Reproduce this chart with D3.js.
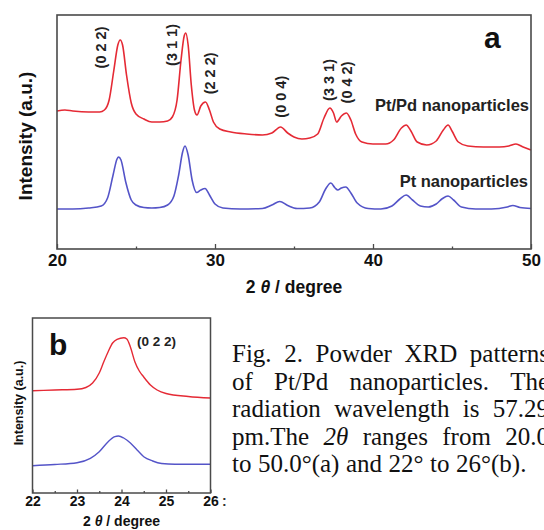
<!DOCTYPE html>
<html><head><meta charset="utf-8">
<script src="https://cdn.jsdelivr.net/npm/d3@7"></script>
<style>body{margin:0;background:#fff}svg{display:block}</style>
</head><body>
<svg id="c" width="544" height="530"></svg>
<script>
// ---------- DATA ----------
// Panel a: Pt/Pd nanoparticles (red)
const twoThetaPtPd = [20.0,20.5,21.0,22.0,22.7,23.0,23.3,23.6,23.85,24.0,24.15,24.4,24.7,25.0,25.5,26.0,26.5,27.0,27.3,27.6,27.85,28.05,28.15,28.3,28.5,28.7,28.86,29.1,29.4,29.65,29.9,30.3,31.0,32.0,33.0,33.6,34.15,34.6,35.0,35.5,36.0,36.5,36.9,37.27,37.5,37.7,38.0,38.32,38.6,38.9,39.3,40.0,40.8,41.3,41.8,42.1,42.4,42.8,43.4,44.0,44.45,44.75,45.0,45.4,46.0,47.0,48.0,48.6,49.05,49.5,50.0];
const intensityPtPd = [138,139,138,137,137,139,149,179,204,209,204,174,146,135,130,127,127,128,132,149,189,213,216,204,164,139,134,143,147,139,127,120,117,115,114,116,122,116,112,110,111,115,131,141,136,127,133,136,129,115,107,105,105,109,121,124,118,107,104,108,119,124,118,107,103,102,102,103,105,102,99];
// Panel a: Pt nanoparticles (blue)
const twoThetaPt = [20.0,21.0,22.0,22.8,23.2,23.55,23.8,23.9,24.05,24.35,24.7,25.0,25.5,26.0,26.5,27.0,27.4,27.7,27.95,28.1,28.3,28.55,28.84,29.1,29.37,29.65,30.0,30.5,31.6,33.0,33.6,34.1,34.6,35.2,36.0,36.6,37.0,37.33,37.6,37.77,38.0,38.28,38.6,39.0,39.7,40.5,41.2,41.7,42.1,42.5,43.0,43.5,44.0,44.4,44.75,45.1,45.6,46.5,47.5,48.5,48.85,49.3,50.0];
const intensityPt = [40,40,41,43,51,74,90,92,89,67,49,44,41.5,41,41.5,44,53,74,97,103,94,69,56.5,59,60.5,54,45,41,40,40.5,44,47.5,43.5,40.5,41,47,60,66,61,59,61,62,56,46,40.5,40,43,50,54,49,43,42,45,50.5,53,49,42,40,40,42,43.5,41.5,40.5];
// Peak annotations (panel a)
const peakLabels = ["(0 2 2)","(3 1 1)","(2 2 2)","(0 0 4)","(3 3 1)","(0 4 2)"];
const peakLabelTheta = [22.81,27.27,29.68,34.17,37.2,38.34];
const peakLabelLevel = [201.5,204,175.6,152.3,169,166.5];
const xTicksA = [20,30,40,50];
const xMinorA = [25,35,45];

// Panel b: zoom on (0 2 2)
const twoThetaPtPdB = [22.0,22.5,23.0,23.2,23.35,23.5,23.6,23.7,23.8,23.9,24.05,24.12,24.2,24.3,24.4,24.5,24.65,24.8,25.0,25.5,26.0];
const intensityPtPdB = [102.3,103,103.7,105.5,110,120,131,141.3,150,153.7,155.3,154,146,131.3,122,116,108,103,99.5,96.5,95];
const twoThetaPtB = [22.0,22.5,23.0,23.3,23.5,23.7,23.85,23.93,24.05,24.2,24.35,24.5,24.7,24.9,25.2,26.0];
const intensityPtB = [27.3,28.5,30.3,34.7,41.3,51.3,56.3,57,55,50,43,36.3,32,29.5,28.7,28.7];
const xTicksB = [22,23,24,25,26];
const xMinorB = [22.5,23.5,24.5,25.5];

const seriesNames = ["Pt/Pd nanoparticles","Pt nanoparticles"];
const captionLines = [
  "Fig. 2. Powder XRD patterns",
  "of Pt/Pd nanoparticles. The",
  "radiation wavelength is 57.29",
  "pm.The 2θ ranges from 20.0",
  "to 50.0°(a) and 22° to 26°(b)."
];

// ---------- DRAW ----------
const svg = d3.select("#c");
const SANS = "'Liberation Sans', Arial, Helvetica, sans-serif";
const RED = "#e52a35", BLUE = "#5454c8", FRAME = "#4a4a4a";

function panel(opt){
  const g = svg.append("g");
  const x = d3.scaleLinear().domain(opt.xDomain).range([opt.left, opt.right]);
  const y = d3.scaleLinear().domain(opt.yDomain).range([opt.bottom, opt.top]);
  const line = d3.line().x(d=>x(d[0])).y(d=>y(d[1])).curve(d3.curveMonotoneX);
  opt.series.forEach(s=>{
    g.append("path").datum(d3.zip(s.x, s.y))
      .attr("d", line).attr("fill","none").attr("stroke", s.color)
      .attr("stroke-width", opt.lw).attr("stroke-linejoin","round");
  });
  const ax = g.append("g").attr("transform",`translate(0,${opt.bottom})`)
    .call(d3.axisBottom(x).tickValues(opt.ticks).tickFormat(d3.format("d"))
      .tickSizeInner(-opt.tick).tickSizeOuter(0).tickPadding(opt.pad));
  ax.select(".domain").remove();
  ax.selectAll(".tick line").attr("stroke", FRAME).attr("stroke-width",1.3);
  ax.selectAll(".tick text").attr("font-family",SANS).attr("font-weight","bold")
    .attr("font-size",opt.tickFont).attr("fill","#111");
  const mn = g.append("g").attr("transform",`translate(0,${opt.bottom})`)
    .call(d3.axisBottom(x).tickValues(opt.minor).tickFormat("").tickSizeInner(-opt.minorTick).tickSizeOuter(0));
  mn.select(".domain").remove();
  mn.selectAll(".tick line").attr("stroke", FRAME).attr("stroke-width",1.3);
  g.append("rect").attr("x",opt.left).attr("y",opt.top)
    .attr("width",opt.right-opt.left).attr("height",opt.bottom-opt.top)
    .attr("fill","none").attr("stroke",FRAME).attr("stroke-width",opt.frameW);
  const xt = g.append("text").attr("x",(opt.left+opt.right)/2 + opt.xtDx).attr("y",opt.xtY)
    .attr("text-anchor","middle").attr("font-family",SANS).attr("font-weight","bold")
    .attr("font-size",opt.titleFont).attr("fill","#111");
  xt.append("tspan").text("2 ");
  xt.append("tspan").attr("font-style","italic").text("θ");
  xt.append("tspan").text("  / degree");
  g.append("text").attr("transform",`translate(${opt.ytX},${opt.ytY}) rotate(-90)`)
    .attr("text-anchor","middle").attr("font-family",SANS).attr("font-weight","bold")
    .attr("font-size",opt.yFont).attr("fill","#111").text("Intensity (a.u.)");
  return {g,x,y};
}

// Panel a
const A = panel({xDomain:[20,50], yDomain:[0,234], left:57, right:531, top:15, bottom:249,
  series:[{x:twoThetaPtPd,y:intensityPtPd,color:RED},{x:twoThetaPt,y:intensityPt,color:BLUE}],
  lw:1.6, ticks:xTicksA, minor:xMinorA, tick:5, minorTick:2.5, pad:5, tickFont:17, frameW:1.6,
  titleFont:17.5, xtY:293, xtDx:0, ytX:32, ytY:136, yFont:19});

peakLabels.forEach((t,i)=>{
  A.g.append("text")
    .attr("transform",`translate(${A.x(peakLabelTheta[i])},${A.y(peakLabelLevel[i])}) rotate(-90)`)
    .attr("text-anchor","middle").attr("dominant-baseline","central")
    .attr("font-family",SANS).attr("font-weight","bold").attr("font-size",14.5)
    .attr("fill","#222").text(t);
});
A.g.append("text").attr("x",529).attr("y",111).attr("text-anchor","end")
  .attr("font-family",SANS).attr("font-weight","bold").attr("font-size",16.5).attr("fill","#222").text(seriesNames[0]);
A.g.append("text").attr("x",528).attr("y",187).attr("text-anchor","end")
  .attr("font-family",SANS).attr("font-weight","bold").attr("font-size",16.5).attr("fill","#222").text(seriesNames[1]);
A.g.append("text").attr("x",484).attr("y",48)
  .attr("font-family",SANS).attr("font-weight","bold").attr("font-size",30).attr("fill","#111").text("a");

// Panel b
const B = panel({xDomain:[22,26], yDomain:[0,175], left:32.5, right:210.5, top:318, bottom:493,
  series:[{x:twoThetaPtPdB,y:intensityPtPdB,color:RED},{x:twoThetaPtB,y:intensityPtB,color:BLUE}],
  lw:1.4, ticks:xTicksB, minor:xMinorB, tick:3.5, minorTick:2, pad:3, tickFont:14, frameW:1.5,
  titleFont:14, xtY:526, xtDx:0, ytX:23, ytY:403, yFont:12.5});
B.g.append("text").attr("x",137).attr("y",346)
  .attr("font-family",SANS).attr("font-weight","bold").attr("font-size",13.5).attr("fill","#222").text("(0 2 2)");
B.g.append("text").attr("x",49).attr("y",355)
  .attr("font-family",SANS).attr("font-weight","bold").attr("font-size",30).attr("fill","#111").text("b");
B.g.append("text").attr("x",222).attr("y",506)
  .attr("font-family",SANS).attr("font-weight","bold").attr("font-size",14).attr("fill","#333").text(":");

// Caption (justified)
const capX = 232, capW = 317, capY0 = 362, capLH = 27.5;
const cap = svg.append("g").attr("font-family","'Liberation Serif','Times New Roman',serif")
  .attr("font-size",25).attr("fill","#111");
captionLines.forEach((line,i)=>{
  const words = line.split(" ");
  const y = capY0 + i*capLH;
  const nodes = words.map(w=>cap.append("text").attr("y",y).attr("font-style", w==="2θ"?"italic":null).text(w));
  const widths = nodes.map(n=>n.node().getComputedTextLength());
  const last = i===captionLines.length-1;
  const gap = last ? 6.5 : (capW - d3.sum(widths))/(words.length-1);
  let xx = capX;
  nodes.forEach((n,j)=>{ n.attr("x",xx); xx += widths[j]+gap; });
});
</script>
</body></html>
